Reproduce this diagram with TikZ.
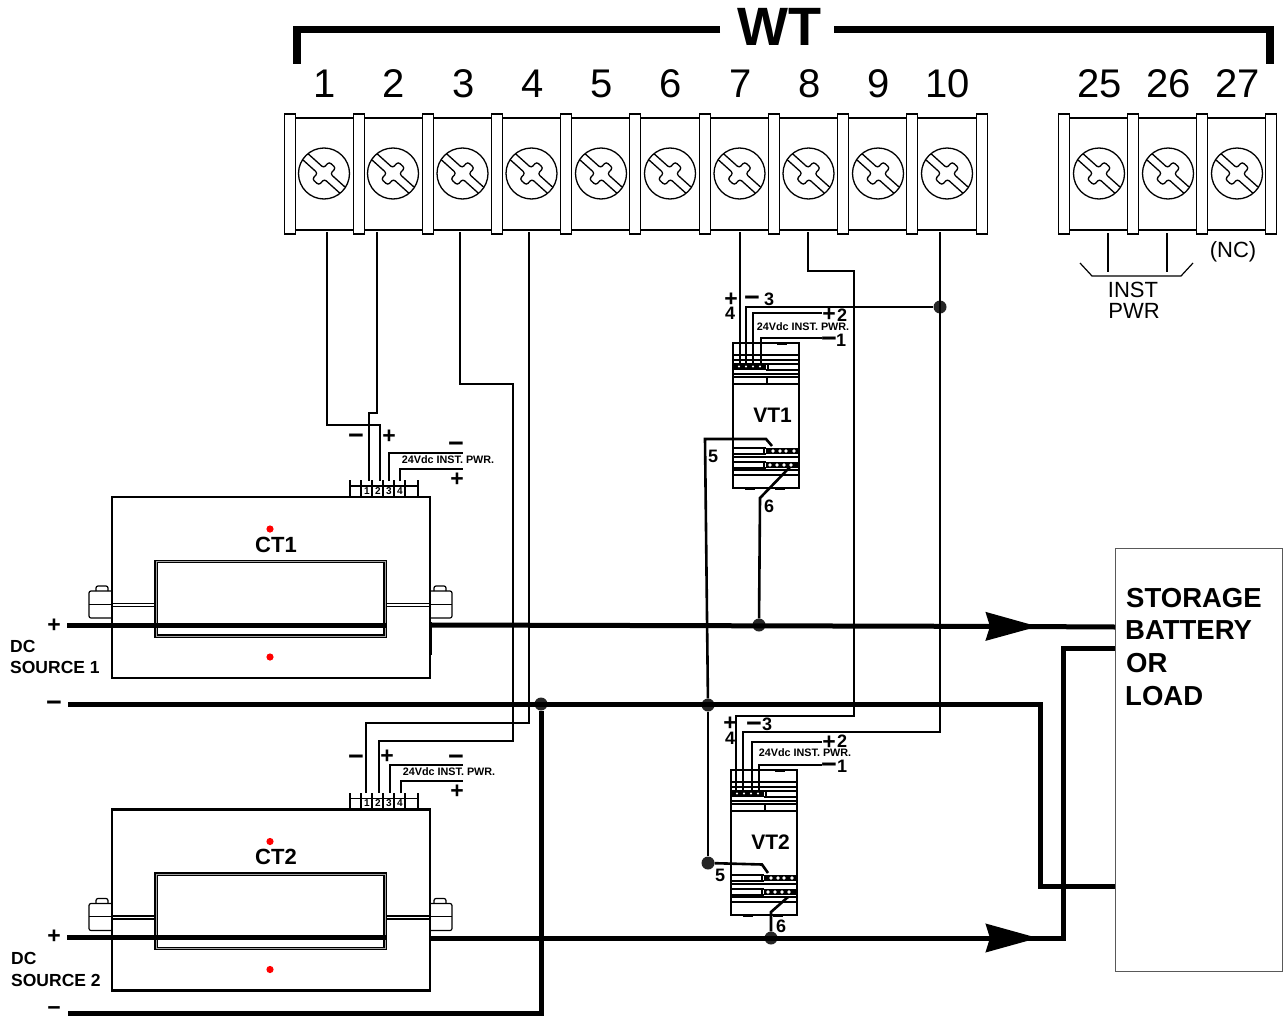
\documentclass[tikz,border=0pt]{standalone}
\usepackage{fontspec}
\setmainfont{Liberation Sans}
\usetikzlibrary{arrows.meta}
\newcommand{\fsz}[1]{\fontsize{#1}{#1}\selectfont}
\tikzset{
    screw/.pic={
        \draw[line width=1.3pt] (0,0) circle (25.5);
        \begin{scope}[rotate=-42,line width=1.3pt,rounded corners=2.5pt]
            \draw (-25,-4) -- (-4,-4) -- (-4,-12) -- (5,-12) -- (5,-4) -- (24.6,-4);
            \draw (-25,4) -- (-5,4) -- (-5,12) -- (4,12) -- (4,4) -- (24.6,4);
        \end{scope}
    },
    termbar/.pic={
        \draw[line width=1.4pt,fill=white] (-5.5,114) rectangle (5.5,234);
    },
    ctbox/.pic={
        \draw[line width=2.2pt] (0,0) rectangle (318,181);
        \draw[line width=1.2pt,double=black!35,double distance=.8pt] (44,64.5) rectangle (273,139);
        \foreach \yy in {106.5,109.5} {
            \draw[line width=1.2pt] (0,\yy) -- (43,\yy);
            \draw[line width=1.2pt] (274,\yy) -- (318,\yy);
        }
        % nuts
        \draw[line width=1.2pt,rounded corners=2pt] (0,94) -- (-23,94) -- (-23,121) -- (0,121);
        \draw[line width=1.2pt,rounded corners=2pt] (-16,94) -- (-16,89) -- (-4,89) -- (-4,94);
        \draw[line width=1.2pt,rounded corners=2pt] (318,94) -- (340,94) -- (340,121) -- (318,121);
        \draw[line width=1.2pt,rounded corners=2pt] (322,94) -- (322,89) -- (334,89) -- (334,94);
        \draw[line width=.6pt] (-23,107) -- (0,107) (318,107) -- (340,107);
        \fill[red] (158,32) circle (3.6) (158,160) circle (3.6);
        \node[ctlabel] (-name) at (164,47.5) {#1};
        % terminal header
        \draw[line width=1.8pt] (238,-1) -- (238,-11) -- (306,-11) -- (306,-1);
        \foreach \xx in {238,249,260,271,282,293,306}
            \draw[line width=1.6pt] (\xx,0) -- (\xx,-17);
        \foreach \nn/\xx in {1/255,2/266,3/277,4/288}
            \node[pinlabel] (-p\nn) at (\xx,-6) {\nn};
    },
    vtbox/.pic={
        \draw[line width=2.4pt] (0,0) rectangle (66,145);
        \draw[line width=2pt] (44,0.5) -- (54,0.5);
        \draw[line width=1.6pt] (0,12) -- (66,12);
        \draw[line width=2.2pt] (0,17) -- (66,17);
        \fill (1,20) rectangle (33,27);
        \foreach \xx in {6,13,20,27} \fill[white] (\xx,23.5) circle (1.2);
        \draw[line width=1.6pt] (33,21) -- (66,21) (33,27) -- (66,27);
        \draw[line width=1.6pt] (0,31) -- (66,31);
        \draw[line width=1.6pt] (0,34) -- (66,34);
        \draw[line width=2pt] (0,41) -- (66,41);
        \draw[line width=2pt] (34,34) -- (34,41) (35,20) -- (35,27);
        \node[vtlabel] (-name) at (39.5,72) {#1};
        % lower rows
        \fill (33,105) rectangle (66,111);
        \foreach \xx in {40,47,53,61} \fill[white] (\xx,108) circle (1.8);
        \draw[line width=1.6pt] (0,105) -- (33,105) (0,111) -- (33,111);
        \draw[line width=2pt] (0,114) -- (66,114);
        \fill (33,119) rectangle (66,125);
        \foreach \xx in {37,44,51,58} \fill[white] (\xx,122) circle (1.8);
        \draw[line width=1.6pt] (0,119) -- (33,119) (0,125) -- (33,125);
        \draw[line width=2pt] (0,127) -- (66,127);
        \draw[line width=2pt] (0,132) -- (66,132);
        \draw[line width=2pt] (31,105) -- (31,111) (31,119) -- (31,125);
        \draw[line width=3pt] (12,145) -- (22,145) (42,145) -- (52,145);
    },
    dot/.style={circle,inner sep=0pt,minimum size=13pt,fill=black!85},
    wire/.style={line width=2pt},
    heavy/.style={line width=2.6pt},
    bus/.style={line width=5pt,line join=miter},
    flow/.style={-{Stealth[length=52pt,width=28pt,inset=4pt]}},
    ctlabel/.style={font=\fsz{22}\bfseries},
    vtlabel/.style={font=\fsz{21}\bfseries},
    pinlabel/.style={font=\fsz{10}\bfseries,inner sep=0pt},
    num/.style={font=\fsz{40},inner sep=0pt,xshift=.7pt},
    sign/.style={font=\fsz{23}\bfseries,inner sep=0pt,yshift=-1.5pt},
    minus/.style={font=\fsz{27}\bfseries,inner sep=0pt,yshift=-3pt},
    vtnum/.style={font=\fsz{18}\bfseries,inner sep=0pt},
    pwr/.style={font=\fsz{10.8}\bfseries,inner sep=0pt},
    src/.style={font=\fsz{17.5}\bfseries,inner sep=0pt,anchor=west},
    load/.style={font=\fsz{27.5}\bfseries,inner sep=0pt,anchor=west},
    inst/.style={font=\fsz{22},inner sep=0pt}
}
\begin{document}
\begin{tikzpicture}[x=1pt,y=-1pt]
    \useasboundingbox (0,0) rectangle (1283,1017);

    % WT bracket
    \node[font=\fsz{54}\bfseries,inner sep=0pt] (wt) at (779,27) {WT};
    \coordinate (brl) at (720,29.5);
    \coordinate (brr) at (834,29.5);
    \coordinate (brla) at (297,64);
    \coordinate (brra) at (1270,64);
    \draw[line width=7.5pt] (brl) -| (brla);
    \draw[line width=7.5pt] (brr) -| (brra);

    % terminal strips
    \draw[line width=1.4pt] (290,118) rectangle (982,230);
    \draw[line width=1.4pt] (1064,118) rectangle (1271,230);
    \foreach \x in {290,359,428,497,566,635,705,774,843,912,982,1064,1133,1202,1271}
        \pic at (\x,0) {termbar};
    \foreach \i/\x in {1/324,2/393,3/462.5,4/531.5,5/601,6/670,7/739.5,8/808.5,9/878,10/947,25/1099,26/1168,27/1237} {
        \node[num] (n\i) at (\x,84) {\i};
        \pic at (\x,173.5) {screw};
    }
    \coordinate (t1) at (327,232);
    \coordinate (t2) at (377,232);
    \coordinate (t3) at (460,232);
    \coordinate (t4) at (529,232);
    \coordinate (t7) at (740,232);
    \coordinate (t8) at (808,232);
    \coordinate (t10) at (940,232);

    % inst pwr
    \coordinate (t25) at (1108,233);
    \coordinate (t26) at (1167,233);
    \coordinate (t25a) at (1108,272);
    \coordinate (t26a) at (1167,272);
    \draw[line width=1.6pt] (t25) -- (t25a);
    \draw[line width=1.6pt] (t26) -- (t26a);
    \coordinate (ipa) at (1080,263);
    \coordinate (ipb) at (1092,276);
    \coordinate (ipc) at (1181,276);
    \coordinate (ipd) at (1193,263);
    \draw[line width=1.2pt] (ipa) -- (ipb) -- (ipc) -- (ipd);
    \node[inst] (instl) at (1133,290) {INST};
    \node[inst] (pwrl) at (1134,311) {PWR};
    \node[inst] (nc) at (1233,252) {(NC)};

    % current sensors
    \pic (ct1) at (112,497) {ctbox=CT1};
    \pic (ct2) at (112,809.5) {ctbox=CT2};
    \coordinate (c1a) at (369,481);
    \coordinate (c1b) at (380,481);
    \coordinate (c1c) at (389,481);
    \coordinate (c1d) at (400,481);
    \coordinate (c2a) at (366,793);
    \coordinate (c2b) at (379,793);
    \coordinate (c2c) at (390,793);
    \coordinate (c2d) at (401,793);

    % voltage sensors
    \pic (vt1) at (733,343) {vtbox=VT1};
    \pic (vt2) at (731,770) {vtbox=VT2};
    \coordinate (v1a) at (740,363);
    \coordinate (v1b) at (746,363);
    \coordinate (v1c) at (753,363);
    \coordinate (v1d) at (761,363);
    \coordinate (v2a) at (736,790);
    \coordinate (v2b) at (743,790);
    \coordinate (v2c) at (752,790);
    \coordinate (v2d) at (759,790);

    % junctions
    \node[dot] (j10) at (940,307) {};
    \node[dot] (ja) at (541,704) {};
    \node[dot] (jb) at (708,705) {};
    \node[dot] (jc) at (708,863) {};
    \node[dot] (jd) at (759,625) {};
    \node[dot] (je) at (771,938) {};

    % CT1 wiring
    \coordinate (w2a) at (377,413);
    \coordinate (w2b) at (369,413);
    \coordinate (w1a) at (380,425);
    \coordinate (pw1a) at (463,453);
    \coordinate (pw1b) at (463,469);
    \draw[wire] (t1) |- (w1a) -- (c1b);
    \draw[wire] (t2) -- (w2a) -- (w2b) -- (c1a);
    \draw[wire] (c1c) |- (pw1a);
    \draw[wire] (c1d) |- (pw1b);

    % CT2 wiring
    \coordinate (w3a) at (513,384);
    \coordinate (w3b) at (513,740.5);
    \coordinate (w4a) at (529,723);
    \coordinate (pw2a) at (463,765);
    \coordinate (pw2b) at (463,781);
    \draw[wire] (t3) |- (w3a) -- (w3b) -| (c2b);
    \draw[wire] (t4) -- (w4a) -| (c2a);
    \draw[wire] (c2c) |- (pw2a);
    \draw[wire] (c2d) |- (pw2b);

    % VT wiring
    \coordinate (w8a) at (854,271);
    \coordinate (w8b) at (854,716);
    \coordinate (w10a) at (940,732);
    \coordinate (pv1a) at (822,313);
    \coordinate (pv1b) at (822,338);
    \coordinate (pv2a) at (822,742);
    \coordinate (pv2b) at (822,765);
    \draw[wire] (t7) -- (v1a);
    \draw[wire] (v1b) |- (j10);
    \draw[wire] (v1c) |- (pv1a);
    \draw[wire] (v1d) |- (pv1b);
    \draw[wire] (t8) |- (w8a) -- (w8b) -| (v2a);
    \draw[wire] (t10) -- (w10a) -| (v2b);
    \draw[wire] (v2c) |- (pv2a);
    \draw[wire] (v2d) |- (pv2b);

    % terminals 5 and 6
    \coordinate (f1a) at (772,446);
    \coordinate (f1b) at (766,439);
    \coordinate (f1c) at (705,439);
    \coordinate (f2a) at (768,873);
    \coordinate (f2b) at (762,864.5);
    \coordinate (s1a) at (790,467);
    \coordinate (s1b) at (760,498);
    \coordinate (s2a) at (788,897);
    \coordinate (s2b) at (771,912);
    \draw[heavy] (f1a) -- (f1b) -- (f1c) -- (jb);
    \draw[heavy] (jb) -- (jc);
    \draw[heavy] (f2a) -- (f2b) -- (jc);
    \draw[heavy] (s1a) -- (s1b) -- (jd);
    \draw[heavy] (s2a) -- (s2b) -- (je);

    % storage
    \node[draw=black!65,line width=1.3pt,minimum width=167pt,minimum height=423pt,inner sep=0pt,anchor=north west] (loadbox) at (1115,548) {};
    \node[load] (ll1) at (1126,598) {STORAGE};
    \node[load] (ll2) at (1125,630) {BATTERY};
    \node[load] (ll3) at (1126,663) {OR};
    \node[load] (ll4) at (1125,696) {LOAD};

    % DC buses
    \coordinate (s1p) at (67,625);
    \coordinate (s1q) at (386,625);
    \coordinate (s1r) at (430,625);
    \coordinate (a1) at (1038,626.5);
    \coordinate (a1b) at (1020,626.5);
    \coordinate (l1) at (1115,627);
    \draw[bus] (s1p) -- (s1q);
    \draw[bus,flow] (s1r) -- (a1);
    \draw[bus] (a1b) -- (l1);
    \coordinate (n1a) at (430,622);
    \coordinate (n1b) at (430,655);
    \draw[line width=3pt] (n1a) -- (n1b);

    \coordinate (s2p) at (67,937);
    \coordinate (s2q) at (386,937);
    \coordinate (s2r) at (430,938);
    \coordinate (a2) at (1038,938);
    \coordinate (a2b) at (1020,938);
    \coordinate (b2) at (1063,938);
    \coordinate (b2a) at (1063,648);
    \coordinate (l2) at (1115,648);
    \draw[bus] (s2p) -- (s2q);
    \draw[bus,flow] (s2r) -- (a2);
    \draw[bus] (a2b) -- (b2) -- (b2a) -- (l2);

    \coordinate (m1) at (68,704);
    \coordinate (m1a) at (1040,704);
    \coordinate (m1b) at (1040,886.5);
    \coordinate (l3) at (1115,886.5);
    \draw[bus] (m1) -- (m1a) -- (m1b) -- (l3);
    \coordinate (m2) at (68,1013.5);
    \coordinate (m2a) at (541,1013.5);
    \draw[bus] (m2) -- (m2a) -- (ja);

    % source labels
    \node[sign] (sp1) at (54,624) {+};
    \node[minus] (sm1) at (54,703) {−};
    \node[sign] (sp2) at (54,935) {+};
    \node[minus,font=\fsz{23}\bfseries] (sm2) at (54,1008) {−};
    \node[src] (dc1) at (10,646) {DC};
    \node[src] (so1) at (10,667) {SOURCE 1};
    \node[src] (dc2) at (11,958) {DC};
    \node[src] (so2) at (11,980) {SOURCE 2};

    % CT labels
    \node[minus] (cm1) at (356,436) {−};
    \node[sign] (cp1) at (389,435) {+};
    \node[minus] (cn1) at (456,444) {−};
    \node[sign] (cq1) at (457,478) {+};
    \node[pwr] (cw1) at (448,460) {24Vdc INST. PWR.};
    \node[minus] (cm2) at (356,757) {−};
    \node[sign] (cp2) at (387,755) {+};
    \node[minus] (cn2) at (456,757) {−};
    \node[sign] (cq2) at (457,790) {+};
    \node[pwr] (cw2) at (449,772) {24Vdc INST. PWR.};

    % VT1 labels
    \node[sign] (vp1) at (731,298) {+};
    \node[minus] (vm1) at (752,298) {−};
    \node[vtnum] (v3a) at (769,299) {3};
    \node[vtnum] (v4a) at (730,313) {4};
    \node[sign] (vq1) at (829,313) {+};
    \node[vtnum] (v2l) at (842,315) {2};
    \node[pwr] (vw1) at (803,327) {24Vdc INST. PWR.};
    \node[minus] (vn1) at (829,339) {−};
    \node[vtnum] (v1l) at (841,340) {1};
    \node[vtnum] (v5a) at (713,456) {5};
    \node[vtnum] (v6a) at (769,506) {6};

    % VT2 labels
    \node[sign] (vp2) at (730,722) {+};
    \node[minus] (vm2) at (754,724) {−};
    \node[vtnum] (v3b) at (767,724) {3};
    \node[vtnum] (v4b) at (730,738) {4};
    \node[sign] (vq2) at (829,741) {+};
    \node[vtnum] (v2m) at (842,741) {2};
    \node[pwr] (vw2) at (805,753) {24Vdc INST. PWR.};
    \node[minus] (vn2) at (829,765) {−};
    \node[vtnum] (v1m) at (842,766) {1};
    \node[vtnum] (v5b) at (720,875) {5};
    \node[vtnum] (v6b) at (781,926) {6};
\end{tikzpicture}
\end{document}
